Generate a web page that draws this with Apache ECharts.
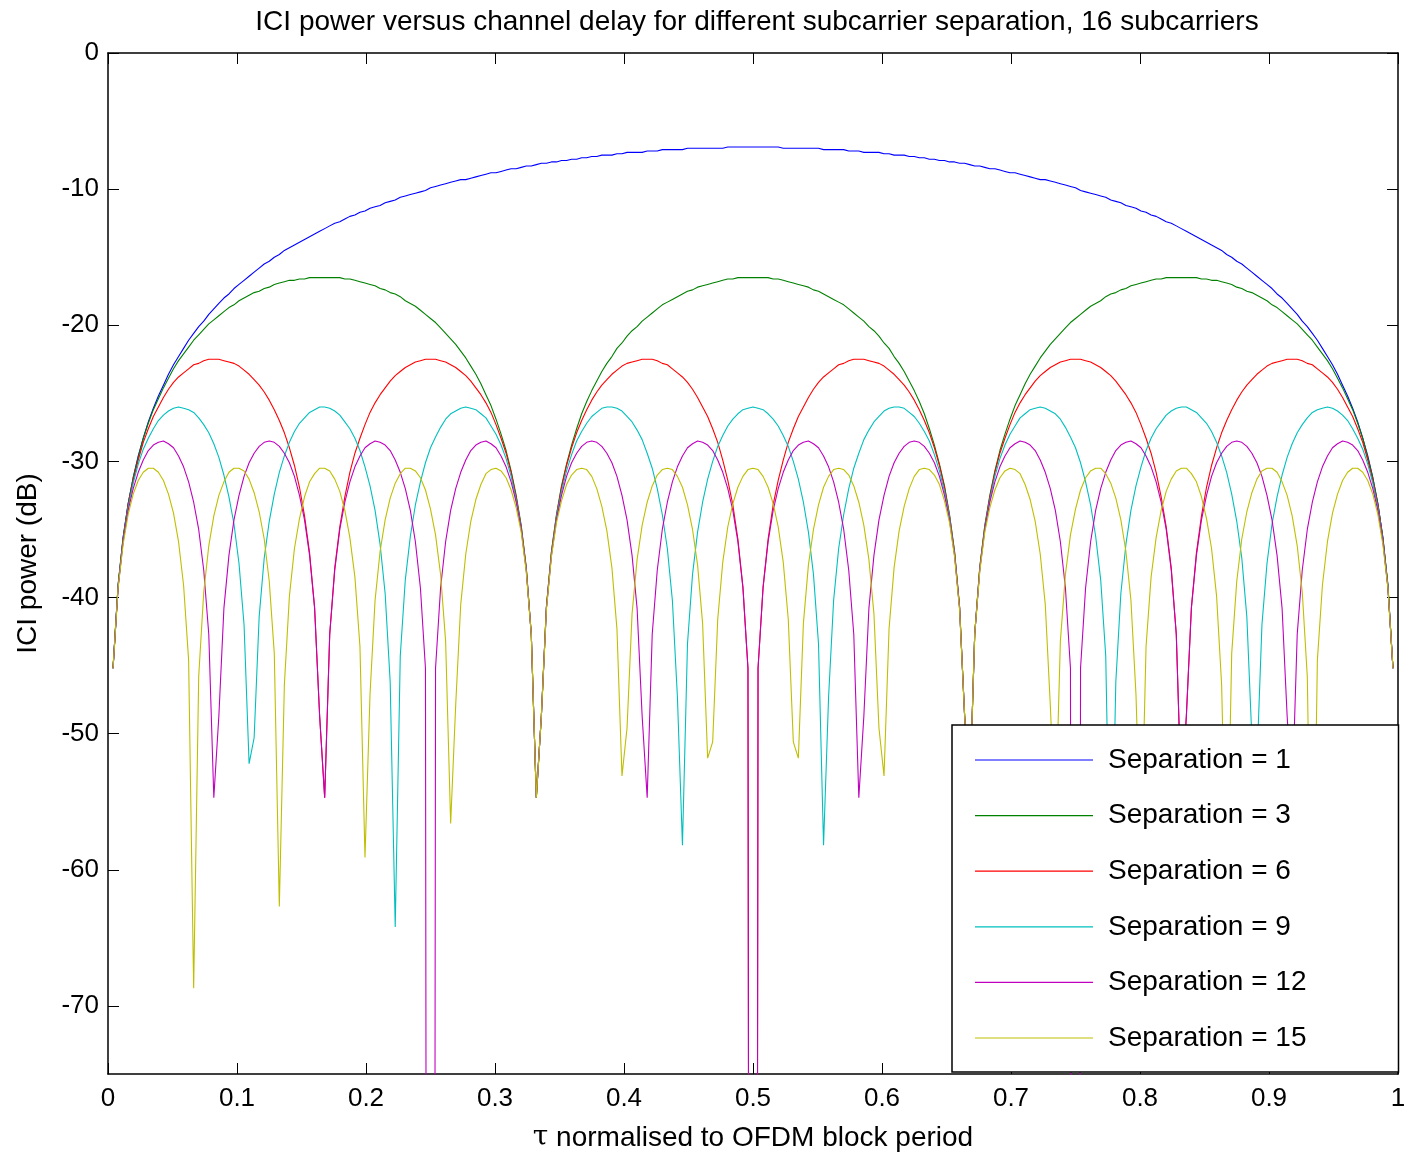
<!DOCTYPE html>
<html>
<head>
<meta charset="utf-8">
<title>ICI power versus channel delay</title>
<script src="https://cdn.jsdelivr.net/npm/echarts@6/dist/echarts.min.js"></script>
<style>
  html, body { margin: 0; padding: 0; background: #fff; }
  #chart { width: 1410px; height: 1153px; }
</style>
</head>
<body>
<div id="chart"></div>
<script>
// delay samples: tau = n/256, n = 1..255
const sampleCount = 255;
const tau = [];
for (let n = 1; n <= sampleCount; n++) tau.push(n / 256);

const xTicks = [0, 0.1, 0.2, 0.3, 0.4, 0.5, 0.6, 0.7, 0.8, 0.9, 1];
const yTicks = [0, -10, -20, -30, -40, -50, -60, -70];

// ICI power (dB), one value per delay sample
const sep1 = [
  -45.2,-39.1,-35.6,-33.1,-31.2,-29.6,-28.3,-27.1,-26.1,-25.2,
  -24.4,-23.6,-22.9,-22.3,-21.7,-21.1,-20.6,-20.1,-19.7,-19.2,
  -18.8,-18.4,-18.0,-17.7,-17.3,-17.0,-16.7,-16.4,-16.1,-15.8,
  -15.5,-15.3,-15.0,-14.8,-14.5,-14.3,-14.1,-13.9,-13.7,-13.5,
  -13.3,-13.1,-12.9,-12.7,-12.5,-12.4,-12.2,-12.0,-11.9,-11.7,
  -11.6,-11.4,-11.3,-11.2,-11.0,-10.9,-10.8,-10.6,-10.5,-10.4,
  -10.3,-10.2,-10.1,-9.9,-9.8,-9.7,-9.6,-9.5,-9.4,-9.3,
  -9.3,-9.2,-9.1,-9.0,-8.9,-8.8,-8.8,-8.7,-8.6,-8.5,
  -8.5,-8.4,-8.3,-8.3,-8.2,-8.1,-8.1,-8.0,-8.0,-7.9,
  -7.9,-7.8,-7.8,-7.7,-7.7,-7.6,-7.6,-7.5,-7.5,-7.5,
  -7.4,-7.4,-7.3,-7.3,-7.3,-7.3,-7.2,-7.2,-7.2,-7.1,
  -7.1,-7.1,-7.1,-7.1,-7.0,-7.0,-7.0,-7.0,-7.0,-7.0,
  -7.0,-7.0,-6.9,-6.9,-6.9,-6.9,-6.9,
  -6.9,
  -6.9,-6.9,-6.9,-6.9,-6.9,-7.0,-7.0,
  -7.0,-7.0,-7.0,-7.0,-7.0,-7.0,-7.1,-7.1,-7.1,-7.1,
  -7.1,-7.2,-7.2,-7.2,-7.3,-7.3,-7.3,-7.3,-7.4,-7.4,
  -7.5,-7.5,-7.5,-7.6,-7.6,-7.7,-7.7,-7.8,-7.8,-7.9,
  -7.9,-8.0,-8.0,-8.1,-8.1,-8.2,-8.3,-8.3,-8.4,-8.5,
  -8.5,-8.6,-8.7,-8.8,-8.8,-8.9,-9.0,-9.1,-9.2,-9.3,
  -9.3,-9.4,-9.5,-9.6,-9.7,-9.8,-9.9,-10.1,-10.2,-10.3,
  -10.4,-10.5,-10.6,-10.8,-10.9,-11.0,-11.2,-11.3,-11.4,-11.6,
  -11.7,-11.9,-12.0,-12.2,-12.4,-12.5,-12.7,-12.9,-13.1,-13.3,
  -13.5,-13.7,-13.9,-14.1,-14.3,-14.5,-14.8,-15.0,-15.3,-15.5,
  -15.8,-16.1,-16.4,-16.7,-17.0,-17.3,-17.7,-18.0,-18.4,-18.8,
  -19.2,-19.7,-20.1,-20.6,-21.1,-21.7,-22.3,-22.9,-23.6,-24.4,
  -25.2,-26.1,-27.1,-28.3,-29.6,-31.2,-33.1,-35.6,-39.1,-45.2
];

const sep3 = [
  -45.2,-39.1,-35.6,-33.1,-31.2,-29.7,-28.3,-27.2,-26.2,-25.4,-24.6,-23.9,-23.2,-22.6,-22.1,
  -21.6,-21.1,-20.7,-20.3,-19.9,-19.6,-19.3,-19.0,-18.7,-18.5,-18.2,-18.0,-17.8,-17.6,-17.5,
  -17.3,-17.2,-17.0,-16.9,-16.8,-16.7,-16.7,-16.6,-16.6,-16.5,-16.5,-16.5,
  -16.5,-16.5,-16.5,-16.5,-16.6,-16.6,-16.7,-16.8,-16.9,-17.0,-17.1,-17.3,-17.4,-17.6,-17.7,
  -17.9,-18.2,-18.4,-18.6,-18.9,-19.2,-19.5,-19.8,-20.2,-20.6,-21.0,-21.4,-21.9,-22.4,-23.0,
  -23.6,-24.3,-25.1,-25.9,-26.9,-28.0,-29.2,-30.7,-32.5,-34.7,-37.8,-42.7,-54.7,
  -48.7,-40.7,-36.6,-33.9,-31.8,-30.2,-28.8,-27.6,-26.5,-25.6,-24.8,-24.1,-23.4,-22.8,-22.3,
  -21.7,-21.3,-20.8,-20.4,-20.1,-19.7,-19.4,-19.1,-18.8,-18.5,-18.3,-18.1,-17.9,-17.7,-17.5,
  -17.4,-17.2,-17.1,-17.0,-16.9,-16.8,-16.7,-16.6,-16.6,-16.5,-16.5,-16.5,
  -16.5,
  -16.5,-16.5,-16.5,-16.6,-16.6,-16.7,-16.8,-16.9,-17.0,-17.1,-17.2,-17.4,-17.5,-17.7,-17.9,
  -18.1,-18.3,-18.5,-18.8,-19.1,-19.4,-19.7,-20.1,-20.4,-20.8,-21.3,-21.7,-22.3,-22.8,-23.4,
  -24.1,-24.8,-25.6,-26.5,-27.6,-28.8,-30.2,-31.8,-33.9,-36.6,-40.7,-48.7,
  -54.7,-42.7,-37.8,-34.7,-32.5,-30.7,-29.2,-28.0,-26.9,-25.9,-25.1,-24.3,-23.6,-23.0,-22.4,
  -21.9,-21.4,-21.0,-20.6,-20.2,-19.8,-19.5,-19.2,-18.9,-18.6,-18.4,-18.2,-17.9,-17.7,-17.6,
  -17.4,-17.3,-17.1,-17.0,-16.9,-16.8,-16.7,-16.6,-16.6,-16.5,-16.5,-16.5,-16.5,
  -16.5,-16.5,-16.5,-16.6,-16.6,-16.7,-16.7,-16.8,-16.9,-17.0,-17.2,-17.3,-17.5,-17.6,-17.8,
  -18.0,-18.2,-18.5,-18.7,-19.0,-19.3,-19.6,-19.9,-20.3,-20.7,-21.1,-21.6,-22.1,-22.6,-23.2,
  -23.9,-24.6,-25.4,-26.2,-27.2,-28.3,-29.7,-31.2,-33.1,-35.6,-39.1,-45.2
];

// -330 marks the samples that fall far below the axis (exact nulls)
const sep6 = [
  -45.2,-39.2,-35.7,-33.2,-31.4,-29.9,-28.6,-27.6,-26.7,-26.0,-25.3,-24.7,-24.2,-23.8,-23.5,-23.2,-22.9,-22.8,-22.6,-22.5,-22.5,
  -22.5,-22.6,-22.7,-22.8,-23.0,-23.3,-23.6,-24.0,-24.4,-24.9,-25.5,-26.2,-27.0,-27.9,-29.0,-30.3,-31.9,-34.0,-36.7,-40.7,-48.7,
  -54.7,-42.7,-37.8,-34.8,-32.6,-30.8,-29.4,-28.3,-27.3,-26.4,-25.7,-25.1,-24.6,-24.1,-23.7,-23.4,-23.1,-22.9,-22.7,-22.6,-22.5,
  -22.5,
  -22.5,-22.6,-22.7,-22.9,-23.1,-23.4,-23.7,-24.1,-24.6,-25.1,-25.7,-26.4,-27.3,-28.3,-29.4,-30.8,-32.6,-34.8,-37.8,-42.7,-54.7,
  -48.7,-40.7,-36.7,-34.0,-31.9,-30.3,-29.0,-27.9,-27.0,-26.2,-25.5,-24.9,-24.4,-24.0,-23.6,-23.3,-23.0,-22.8,-22.7,-22.6,-22.5,
  -22.5,-22.5,-22.6,-22.8,-22.9,-23.2,-23.5,-23.8,-24.2,-24.7,-25.3,-26.0,-26.7,-27.6,-28.6,-29.9,-31.4,-33.2,-35.7,-39.2,-45.2,
  -330,
  -45.2,-39.2,-35.7,-33.2,-31.4,-29.9,-28.6,-27.6,-26.7,-26.0,-25.3,-24.7,-24.2,-23.8,-23.5,-23.2,-22.9,-22.8,-22.6,-22.5,-22.5,
  -22.5,-22.6,-22.7,-22.8,-23.0,-23.3,-23.6,-24.0,-24.4,-24.9,-25.5,-26.2,-27.0,-27.9,-29.0,-30.3,-31.9,-34.0,-36.7,-40.7,-48.7,
  -54.7,-42.7,-37.8,-34.8,-32.6,-30.8,-29.4,-28.3,-27.3,-26.4,-25.7,-25.1,-24.6,-24.1,-23.7,-23.4,-23.1,-22.9,-22.7,-22.6,-22.5,
  -22.5,
  -22.5,-22.6,-22.7,-22.9,-23.1,-23.4,-23.7,-24.1,-24.6,-25.1,-25.7,-26.4,-27.3,-28.3,-29.4,-30.8,-32.6,-34.8,-37.8,-42.7,-54.7,
  -48.7,-40.7,-36.7,-34.0,-31.9,-30.3,-29.0,-27.9,-27.0,-26.2,-25.5,-24.9,-24.4,-24.0,-23.6,-23.3,-23.0,-22.8,-22.7,-22.6,-22.5,
  -22.5,-22.5,-22.6,-22.8,-22.9,-23.2,-23.5,-23.8,-24.2,-24.7,-25.3,-26.0,-26.7,-27.6,-28.6,-29.9,-31.4,-33.2,-35.7,-39.2,-45.2
];

const sep9 = [
  -45.2,-39.2,-35.8,-33.4,-31.6,-30.2,-29.1,-28.3,-27.6,-27.0,-26.6,-26.3,-26.1,-26.0,
  -26.1,-26.2,-26.4,-26.8,-27.3,-27.9,-28.7,-29.7,-31.0,-32.6,-34.6,-37.5,-42.0,-52.2,
  -50.3,-41.4,-37.1,-34.4,-32.4,-30.8,-29.6,-28.6,-27.8,-27.2,-26.8,-26.4,-26.2,-26.0,
  -26.0,-26.1,-26.3,-26.6,-27.1,-27.6,-28.3,-29.2,-30.4,-31.8,-33.6,-36.1,-39.7,-46.2,
  -64.2,-44.3,-38.7,-35.5,-33.2,-31.5,-30.1,-29.0,-28.2,-27.5,-26.9,-26.5,-26.3,-26.1,-26.0,
  -26.1,-26.2,-26.5,-26.8,-27.4,-28.0,-28.8,-29.8,-31.1,-32.8,-34.9,-37.9,-42.7,-54.7,
  -48.7,-40.8,-36.8,-34.1,-32.2,-30.7,-29.5,-28.5,-27.8,-27.2,-26.7,-26.4,-26.1,-26.0,
  -26.0,-26.1,-26.3,-26.7,-27.1,-27.7,-28.4,-29.4,-30.5,-32.0,-33.9,-36.4,-40.2,-47.3,
  -58.2,-43.4,-38.3,-35.2,-33.0,-31.3,-30.0,-28.9,-28.1,-27.4,-26.9,-26.5,-26.2,-26.1,
  -26.0,
  -26.1,-26.2,-26.5,-26.9,-27.4,-28.1,-28.9,-30.0,-31.3,-33.0,-35.2,-38.3,-43.4,-58.2,
  -47.3,-40.2,-36.4,-33.9,-32.0,-30.5,-29.4,-28.4,-27.7,-27.1,-26.7,-26.3,-26.1,-26.0,
  -26.0,-26.1,-26.4,-26.7,-27.2,-27.8,-28.5,-29.5,-30.7,-32.2,-34.1,-36.8,-40.8,-48.7,
  -54.7,-42.7,-37.9,-34.9,-32.8,-31.1,-29.8,-28.8,-28.0,-27.4,-26.8,-26.5,-26.2,-26.1,
  -26.0,-26.1,-26.3,-26.5,-26.9,-27.5,-28.2,-29.0,-30.1,-31.5,-33.2,-35.5,-38.7,-44.3,-64.2,
  -46.2,-39.7,-36.1,-33.6,-31.8,-30.4,-29.2,-28.3,-27.6,-27.1,-26.6,-26.3,-26.1,-26.0,
  -26.0,-26.2,-26.4,-26.8,-27.2,-27.8,-28.6,-29.6,-30.8,-32.4,-34.4,-37.1,-41.4,-50.3,
  -52.2,-42.0,-37.5,-34.6,-32.6,-31.0,-29.7,-28.7,-27.9,-27.3,-26.8,-26.4,-26.2,-26.1,
  -26.0,-26.1,-26.3,-26.6,-27.0,-27.6,-28.3,-29.1,-30.2,-31.6,-33.4,-35.8,-39.2,-45.2
];

const sep12 = [
  -45.2,-39.3,-35.9,-33.6,-32.0,-30.8,-29.9,-29.2,-28.8,-28.6,
  -28.5,-28.7,-29.0,-29.6,-30.4,-31.5,-33.0,-35.0,-38.0,-42.7,-54.7,
  -48.7,-40.8,-36.9,-34.3,-32.5,-31.1,-30.1,-29.4,-28.9,-28.6,-28.5,
  -28.6,-28.9,-29.4,-30.1,-31.1,-32.5,-34.3,-36.9,-40.8,-48.7,
  -54.7,-42.7,-38.0,-35.0,-33.0,-31.5,-30.4,-29.6,-29.0,-28.7,-28.5,
  -28.6,-28.8,-29.2,-29.9,-30.8,-32.0,-33.6,-35.9,-39.3,-45.2,
  -330,
  -45.2,-39.3,-35.9,-33.6,-32.0,-30.8,-29.9,-29.2,-28.8,-28.6,
  -28.5,-28.7,-29.0,-29.6,-30.4,-31.5,-33.0,-35.0,-38.0,-42.7,-54.7,
  -48.7,-40.8,-36.9,-34.3,-32.5,-31.1,-30.1,-29.4,-28.9,-28.6,-28.5,
  -28.6,-28.9,-29.4,-30.1,-31.1,-32.5,-34.3,-36.9,-40.8,-48.7,
  -54.7,-42.7,-38.0,-35.0,-33.0,-31.5,-30.4,-29.6,-29.0,-28.7,-28.5,
  -28.6,-28.8,-29.2,-29.9,-30.8,-32.0,-33.6,-35.9,-39.3,-45.2,
  -330,
  -45.2,-39.3,-35.9,-33.6,-32.0,-30.8,-29.9,-29.2,-28.8,-28.6,
  -28.5,-28.7,-29.0,-29.6,-30.4,-31.5,-33.0,-35.0,-38.0,-42.7,-54.7,
  -48.7,-40.8,-36.9,-34.3,-32.5,-31.1,-30.1,-29.4,-28.9,-28.6,-28.5,
  -28.6,-28.9,-29.4,-30.1,-31.1,-32.5,-34.3,-36.9,-40.8,-48.7,
  -54.7,-42.7,-38.0,-35.0,-33.0,-31.5,-30.4,-29.6,-29.0,-28.7,-28.5,
  -28.6,-28.8,-29.2,-29.9,-30.8,-32.0,-33.6,-35.9,-39.3,-45.2,
  -330,
  -45.2,-39.3,-35.9,-33.6,-32.0,-30.8,-29.9,-29.2,-28.8,-28.6,
  -28.5,-28.7,-29.0,-29.6,-30.4,-31.5,-33.0,-35.0,-38.0,-42.7,-54.7,
  -48.7,-40.8,-36.9,-34.3,-32.5,-31.1,-30.1,-29.4,-28.9,-28.6,-28.5,
  -28.6,-28.9,-29.4,-30.1,-31.1,-32.5,-34.3,-36.9,-40.8,-48.7,
  -54.7,-42.7,-38.0,-35.0,-33.0,-31.5,-30.4,-29.6,-29.0,-28.7,-28.5,
  -28.6,-28.8,-29.2,-29.9,-30.8,-32.0,-33.6,-35.9,-39.3,-45.2
];

const sep15 = [
  -45.2,-39.3,-36.1,-33.9,-32.4,-31.4,-30.8,-30.5,-30.5,-30.8,
  -31.4,-32.4,-33.8,-35.9,-39.1,-44.6,-68.7,-45.8,-39.6,-36.2,
  -34.0,-32.5,-31.5,-30.8,-30.5,-30.5,-30.7,-31.3,-32.3,-33.7,
  -35.7,-38.8,-44.1,-62.7,-46.4,-39.9,-36.4,-34.2,-32.6,-31.5,
  -30.9,-30.5,-30.5,-30.7,-31.3,-32.2,-33.6,-35.6,-38.5,-43.6,
  -59.1,-47.1,-40.2,-36.6,-34.3,-32.7,-31.6,-30.9,-30.5,-30.5,
  -30.7,-31.2,-32.1,-33.5,-35.4,-38.3,-43.2,-56.6,-47.9,-40.5,
  -36.8,-34.4,-32.8,-31.7,-30.9,-30.6,-30.5,-30.7,-31.2,-32.1,
  -33.4,-35.2,-38.1,-42.7,-54.7,-48.7,-40.9,-37.0,-34.5,-32.9,
  -31.7,-31.0,-30.6,-30.5,-30.6,-31.1,-32.0,-33.3,-35.1,-37.8,
  -42.3,-53.1,-49.6,-41.2,-37.2,-34.7,-33.0,-31.8,-31.0,-30.6,
  -30.5,-30.6,-31.1,-31.9,-33.2,-35.0,-37.6,-41.9,-51.8,-50.6,
  -41.6,-37.4,-34.8,-33.1,-31.9,-31.1,-30.6,
  -30.5,
  -30.6,-31.1,-31.9,-33.1,-34.8,-37.4,-41.6,
  -50.6,-51.8,-41.9,-37.6,-35.0,-33.2,-31.9,-31.1,-30.6,-30.5,
  -30.6,-31.0,-31.8,-33.0,-34.7,-37.2,-41.2,-49.6,-53.1,-42.3,
  -37.8,-35.1,-33.3,-32.0,-31.1,-30.6,-30.5,-30.6,-31.0,-31.7,
  -32.9,-34.5,-37.0,-40.9,-48.7,-54.7,-42.7,-38.1,-35.2,-33.4,
  -32.1,-31.2,-30.7,-30.5,-30.6,-30.9,-31.7,-32.8,-34.4,-36.8,
  -40.5,-47.9,-56.6,-43.2,-38.3,-35.4,-33.5,-32.1,-31.2,-30.7,
  -30.5,-30.5,-30.9,-31.6,-32.7,-34.3,-36.6,-40.2,-47.1,-59.1,
  -43.6,-38.5,-35.6,-33.6,-32.2,-31.3,-30.7,-30.5,-30.5,-30.9,
  -31.5,-32.6,-34.2,-36.4,-39.9,-46.4,-62.7,-44.1,-38.8,-35.7,
  -33.7,-32.3,-31.3,-30.7,-30.5,-30.5,-30.8,-31.5,-32.5,-34.0,
  -36.2,-39.6,-45.8,-68.7,-44.6,-39.1,-35.9,-33.8,-32.4,-31.4,
  -30.8,-30.5,-30.5,-30.8,-31.4,-32.4,-33.9,-36.1,-39.3,-45.2
];

const seriesNames = ['Separation = 1', 'Separation = 3', 'Separation = 6',
                     'Separation = 9', 'Separation = 12', 'Separation = 15'];
const seriesValues = [sep1, sep3, sep6, sep9, sep12, sep15];
const seriesColors = ['#0000ff', '#008000', '#ff0000', '#00bfbf', '#bf00bf', '#bfbf00'];

const font = 'Liberation Sans, Arial, Helvetica, sans-serif';

const el = document.getElementById('chart');
const myChart = echarts.init(el, null, { renderer: 'canvas' });

function axisBase(showLabels) {
  return {
    min: 0, max: 1,
    axisLine: { show: true, onZero: false, lineStyle: { color: '#000', width: 1.5 } },
    axisTick: { show: true, inside: true, length: 11, customValues: xTicks,
                lineStyle: { color: '#000', width: 1 } },
    axisLabel: { show: showLabels, customValues: xTicks, margin: 12,
                 fontSize: 26, fontFamily: font, color: '#000' },
    splitLine: { show: false }
  };
}

const xBottom = Object.assign({ type: 'value', position: 'bottom',
  name: '{tau|τ} normalised to OFDM block period',
  nameLocation: 'middle', nameGap: 50,
  nameTextStyle: { fontSize: 28, fontFamily: font, color: '#000',
    rich: { tau: { fontSize: 28, fontFamily: 'DejaVu Serif, Liberation Serif, serif', color: '#000' } } }
}, axisBase(true));
const xTop = Object.assign({ type: 'value', position: 'top' }, axisBase(false));

function yAxisBase(showLabels) {
  return {
    type: 'value', min: -75, max: 0,
    axisLine: { show: true, onZero: false, lineStyle: { color: '#000', width: 1.5 } },
    axisTick: { show: true, inside: true, length: 11, customValues: yTicks,
                lineStyle: { color: '#000', width: 1 } },
    axisLabel: { show: showLabels, customValues: yTicks, margin: 9,
                 fontSize: 26, fontFamily: font, color: '#000' },
    splitLine: { show: false }
  };
}

const yLeft = Object.assign({ position: 'left', name: 'ICI power (dB)',
  nameLocation: 'middle', nameGap: 66, nameRotate: 90,
  nameTextStyle: { fontSize: 28, fontFamily: font, color: '#000' } }, yAxisBase(true));
const yRight = Object.assign({ position: 'right' }, yAxisBase(false));

const series = seriesNames.map((name, i) => ({
  name: name,
  type: 'line',
  xAxisIndex: 0,
  yAxisIndex: 0,
  data: tau.map((t, j) => [t, seriesValues[i][j]]),
  symbol: 'none',
  showSymbol: false,
  clip: true,
  lineStyle: { color: seriesColors[i], width: 1.1 },
  itemStyle: { color: seriesColors[i] },
  emphasis: { disabled: true },
  animation: false
}));

myChart.setOption({
  animation: false,
  backgroundColor: '#fff',
  title: {
    text: 'ICI power versus channel delay for different subcarrier separation, 16 subcarriers',
    left: 752, top: 3, textAlign: 'center',
    textStyle: { fontSize: 28, fontWeight: 'normal', fontFamily: font, color: '#000' }
  },
  grid: { left: 108, right: 12, top: 53, bottom: 79, containLabel: false,
          outerBoundsMode: 'none' },
  legend: {
    orient: 'vertical',
    left: 952, top: 725,
    padding: [20, 92, 19, 23],
    itemWidth: 118, itemHeight: 1.2, itemGap: 25.6,
    icon: 'rect',
    selectedMode: false,
    backgroundColor: '#fff',
    borderColor: '#000', borderWidth: 1.5, borderRadius: 0,
    textStyle: { fontSize: 28, fontFamily: font, color: '#000', lineHeight: 30,
                 padding: [0, 0, 0, 10] },
    data: seriesNames
  },
  xAxis: [xBottom, xTop],
  yAxis: [yLeft, yRight],
  series: series
});
</script>
</body>
</html>
